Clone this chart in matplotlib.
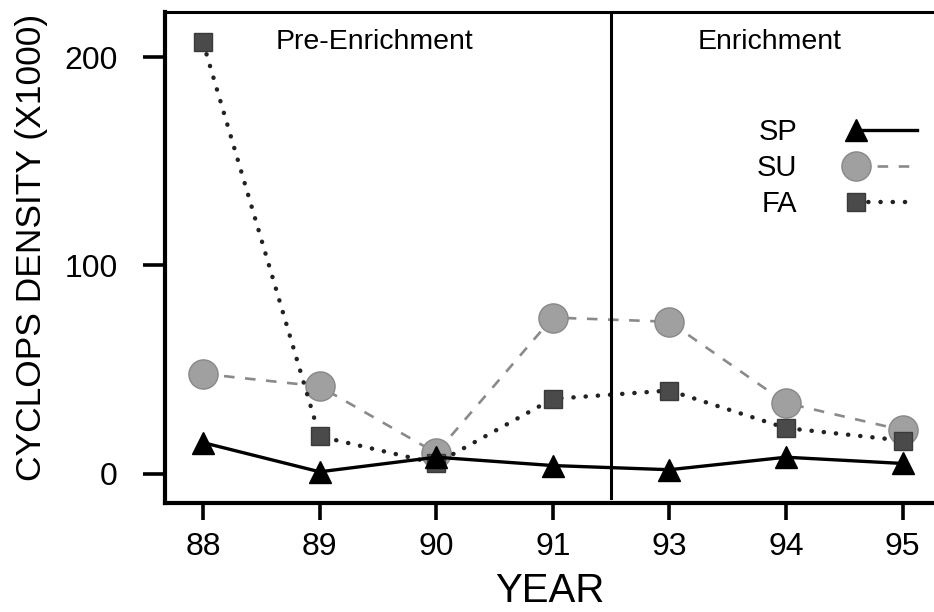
import numpy as np
import matplotlib
matplotlib.use("Agg")
import matplotlib.pyplot as plt
from matplotlib.lines import Line2D
from matplotlib.legend_handler import HandlerLine2D

plt.rcParams["font.family"] = ["Liberation Sans", "DejaVu Sans"]

years = ["88", "89", "90", "91", "93", "94", "95"]
sp = [15, 1, 8, 4, 2, 8, 5]
su = [48, 42, 10, 75, 73, 34, 21]
fa = [207, 18, 5, 36, 40, 22, 16]


class LeftMarkerHandler(HandlerLine2D):
    # one marker at the left end, line trailing off to the right
    def create_artists(self, legend, orig_handle, xdescent, ydescent,
                       width, height, fontsize, trans):
        y = height / 2 - ydescent
        x0 = -xdescent
        line = Line2D([x0, x0 + width], [y, y])
        self.update_prop(line, orig_handle, legend)
        line.set_markevery([0])
        line.set_transform(trans)
        return [line]


fig = plt.figure(figsize=(9.34, 6.12), dpi=100)
ax = fig.add_axes([0.1767, 0.178, 0.8233, 0.802])

x = np.arange(len(years))
ax.plot(x, sp, color="black", lw=2.4, marker="^", ms=16, mfc="black", mec="black",
        label="SP", zorder=3)
ax.plot(x, su, color="#8a8a8a", lw=1.9, ls=(0, (4, 4)), marker="o", ms=21,
        mfc="#a0a0a0", mec="#888888", mew=1.0, label="SU", zorder=2)
ax.plot(x, fa, color="#222222", lw=3.2, ls=(0, (0.05, 2.7)), dash_capstyle="round",
        marker="s", ms=13, mfc="#4a4a4a", mec="#3a3a3a", label="FA", zorder=2)

ax.axvline(3.5, ymin=0.01, ymax=1, color="black", lw=2.2)

ax.text(1.47, 207, "Pre-Enrichment", ha="center", va="center", fontsize=20.5)
ax.text(4.86, 207, "Enrichment", ha="center", va="center", fontsize=20.5)

ax.set_xlim(-0.326, 6.27)
ax.set_ylim(-14, 221.5)
ax.set_xticks(x)
ax.set_xticklabels(years)
ax.set_yticks([0, 100, 200])

ax.tick_params(axis="y", length=16, width=2.6, pad=18, labelsize=23)
ax.tick_params(axis="x", length=12, width=2.6, pad=9, labelsize=23)

for side in ("left", "bottom"):
    ax.spines[side].set_linewidth(3.0)
ax.spines["top"].set_linewidth(2.2)
ax.spines["right"].set_visible(False)

ax.set_xlabel("YEAR", fontsize=29, labelpad=7)
ax.set_ylabel("CYCLOPS DENSITY (X1000)", fontsize=25.5)
ax.yaxis.set_label_coords(-0.152, 0.52)

ax.legend(handler_map={Line2D: LeftMarkerHandler()}, markerfirst=False,
          frameon=False, loc="upper left", bbox_to_anchor=(0.77, 0.785),
          borderaxespad=0, borderpad=0, fontsize=21, handlelength=2.1,
          handletextpad=2.0, labelspacing=0.28)

fig.savefig("out.png", dpi=100)
